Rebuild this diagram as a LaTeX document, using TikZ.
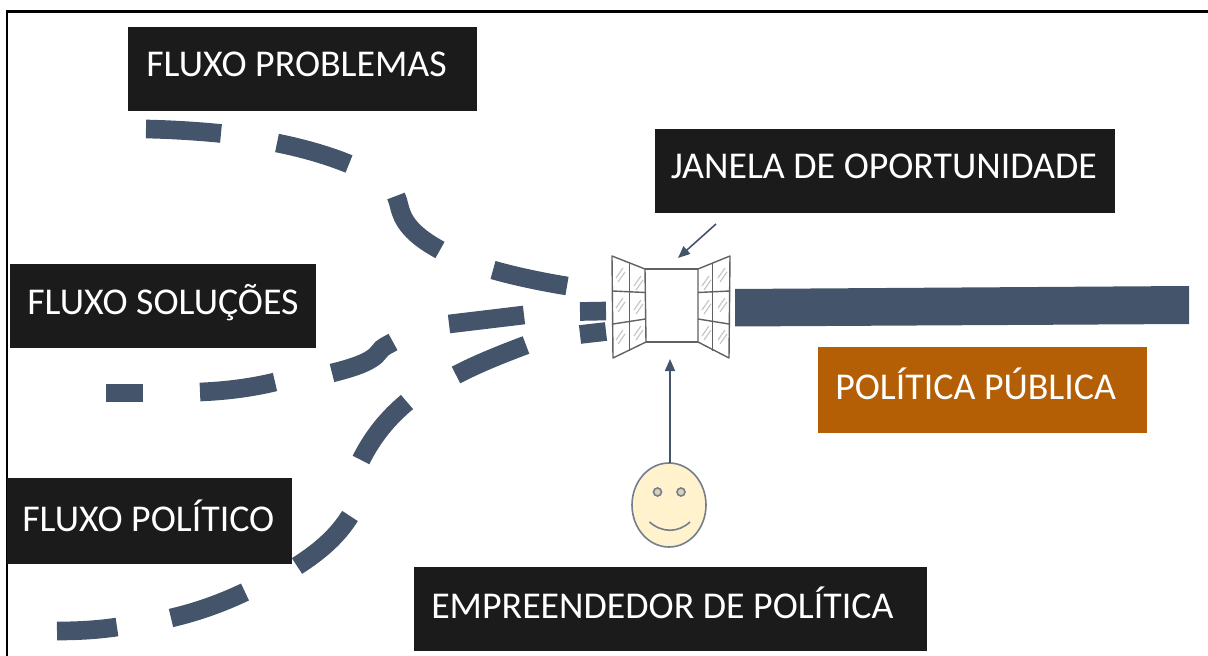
\documentclass[tikz,border=0pt]{standalone}
\usepackage{fontspec}
\setmainfont{Carlito}
\usetikzlibrary{arrows.meta}
\definecolor{slate}{HTML}{44546A}
\definecolor{boxblack}{HTML}{1B1B1B}
\definecolor{amber}{HTML}{B45F06}
\definecolor{skin}{HTML}{FFF2CC}
\tikzset{
  x=0.75pt,y=-0.75pt,
  dash seg/.style={draw=slate,line width=14pt,line cap=butt},
  label box/.style={fill=boxblack,inner sep=0pt},
  label text/.style={text=white,font=\fontsize{28.4}{30}\selectfont,anchor=base west,inner sep=0pt},
  pane/.style={draw=black!62,line width=1.05pt,line join=round},
  hatch/.style={draw=black!22,line width=0.9pt},
  pointer/.style={draw=slate,line width=1.2pt,-{Triangle[length=9pt,width=7.5pt]}},
}
\begin{document}
\begin{tikzpicture}
\useasboundingbox (0,0) rectangle (1208,656);
% frame
\draw[black,line width=1.7pt] (7,656) -- (7,11.5) -- (1208,11.5);
% streams: problemas
\draw[dash seg] (146,129) .. controls (170,129.5) and (196,131) .. (221,133.5);
\draw[dash seg] (277,143) .. controls (302,148) and (327,155) .. (349,164);
\draw[dash seg] (396,196) .. controls (402,208) and (396,226) .. (440,250);
\draw[dash seg] (493,270) .. controls (518,277) and (543,282) .. (567,286);
\draw[dash seg] (580,311.5) -- (606,311);
% streams: solucoes
\draw[dash seg] (106,393) -- (143,393);
\draw[dash seg] (200,392) .. controls (225,391) and (250,388) .. (275,382);
\draw[dash seg] (332,373) .. controls (352,368) and (372,362) .. (379,352) .. controls (382,347) and (388,345) .. (393,342);
\draw[dash seg] (449,324) -- (524,315);
\draw[dash seg] (580,334.5) -- (606,331.5);
% streams: politico
\draw[dash seg] (57,631) .. controls (77,631) and (97,630) .. (117,627);
\draw[dash seg] (171,618) .. controls (197,612) and (222,603) .. (245,592);
\draw[dash seg] (297,566) .. controls (322,550) and (338,535) .. (350,516);
\draw[dash seg] (361,460) .. controls (373,436) and (388,418) .. (407,402);
\draw[dash seg] (456,375) .. controls (477,364) and (502,354) .. (526,345);
% big outcome bar
\fill[slate] (735,289) -- (1189,286) -- (1189,324) -- (735,326.5) -- cycle;
% window
\foreach \a/\c in {616/268,616/298,616/330,634/276,634/300,634/326,
 702/276,702/300,702/326,718/268,718/298,718/330}
  \draw[hatch] (\a,\c+10) -- (\a+7,\c) (\a+2,\c+14) -- (\a+9,\c+4);
\draw[pane] (612,256) -- (645,269) -- (646,342) -- (613,358) -- cycle;
\draw[pane] (730,256) -- (698,269) -- (698,342) -- (729,358) -- cycle;
\draw[pane] (645,269) -- (698,269) (646,342) -- (698,342);
\draw[pane] (629.5,263) -- (629.5,351);
\draw[pane] (712.5,263) -- (712.5,351);
\draw[pane] (612.5,291) -- (645,292.5) (613,324) -- (645.5,319);
\draw[pane] (698,292.5) -- (730,291) (698,319) -- (729,324);
% pointers
\coordinate (jtail) at (716,224);
\coordinate (jhead) at (678,258);
\draw[pointer] (jtail) -- (jhead);
% face
\draw[slate!75,fill=skin,line width=1.2pt] (669,505) ellipse [x radius=37,y radius=42];
\coordinate (ftop) at (670,463);
\coordinate (whead) at (670,359);
\draw[pointer] (ftop) -- (whead);
\draw[slate!75,fill=skin!70!gray,line width=1.2pt] (657.5,492) circle [radius=4];
\draw[slate!75,fill=skin!70!gray,line width=1.2pt] (681,492) circle [radius=4];
\draw[slate!75,line width=1.2pt] (649.5,522) .. controls (662,533) and (678,533) .. (690,522);
% labels
\fill[label box] (128,27) rectangle (477,111);
\node[label text] (prob) at (146,77) {FLUXO PROBLEMAS};
\fill[label box] (655,129) rectangle (1115,213);
\node[label text] (jan) at (670.5,179) {JANELA DE OPORTUNIDADE};
\fill[label box] (10,264) rectangle (316,348);
\node[label text] (sol) at (27,315) {FLUXO SOLUÇÕES};
\fill[label box] (7,478) rectangle (292,564);
\node[label text] (pol) at (22,531) {FLUXO POLÍTICO};
\fill[label box] (414,567) rectangle (927,651);
\node[label text] (emp) at (431,618) {EMPREENDEDOR DE POLÍTICA};
\fill[amber] (818,347) rectangle (1147,433);
\node[label text] (pp) at (835,399) {POLÍTICA PÚBLICA};
\end{tikzpicture}
\end{document}
